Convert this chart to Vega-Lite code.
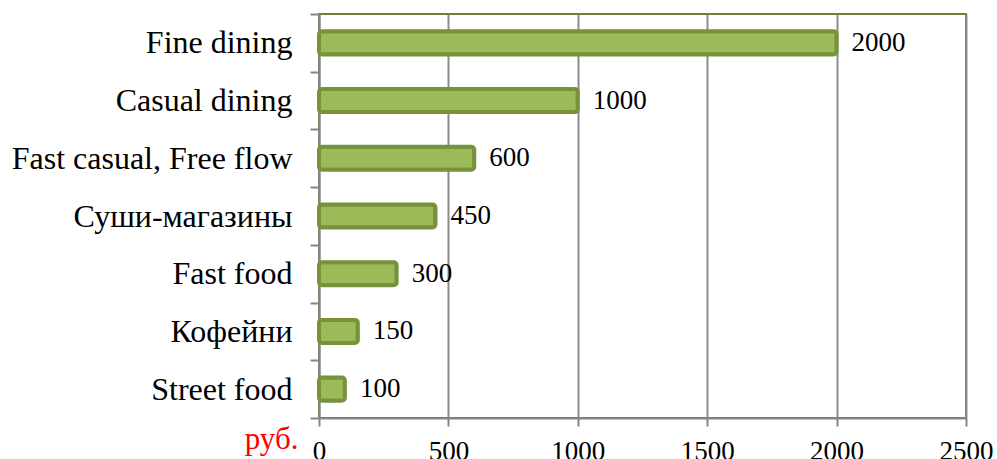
{
  "$schema": "https://vega.github.io/schema/vega-lite/v6.json",
  "autosize": "none",
  "width": 647,
  "height": 404,
  "padding": {"left": 319, "top": 14, "right": 31, "bottom": 41},
  "background": "white",
  "config": {
    "view": {"stroke": "#6B8236", "strokeWidth": 2},
    "font": "Liberation Serif"
  },
  "data": {
    "values": [
      {"segment": "Fine dining", "price": 2000},
      {"segment": "Casual dining", "price": 1000},
      {"segment": "Fast casual, Free flow", "price": 600},
      {"segment": "Суши-магазины", "price": 450},
      {"segment": "Fast food", "price": 300},
      {"segment": "Кофейни", "price": 150},
      {"segment": "Street food", "price": 100}
    ]
  },
  "encoding": {
    "y": {
      "field": "segment",
      "type": "nominal",
      "sort": null,
      "scale": {"paddingInner": 0, "paddingOuter": 0},
      "axis": {
        "title": null,
        "grid": false,
        "domainColor": "#868686",
        "domainWidth": 2,
        "tickBand": "extent",
        "tickColor": "#868686",
        "tickWidth": 2,
        "tickSize": 9,
        "labelFont": "Liberation Serif",
        "labelFontSize": 32,
        "labelColor": "#000000",
        "labelPadding": 18,
        "labelLimit": 400
      }
    },
    "x": {
      "field": "price",
      "type": "quantitative",
      "scale": {"domain": [0, 2500], "nice": false},
      "axis": {
        "values": [0, 500, 1000, 1500, 2000, 2500],
        "format": "d",
        "title": "руб.",
        "titleColor": "#FF0000",
        "titleFont": "Liberation Serif",
        "titleFontSize": 31,
        "titleFontWeight": "normal",
        "titleAnchor": "start",
        "titleAlign": "right",
        "titleBaseline": "alphabetic",
        "titleX": -21,
        "titleY": 30,
        "grid": true,
        "gridColor": "#8C8C8C",
        "gridWidth": 2,
        "domainColor": "#868686",
        "domainWidth": 2,
        "tickColor": "#868686",
        "tickWidth": 2,
        "tickSize": 8,
        "labelFont": "Liberation Serif",
        "labelFontSize": 27,
        "labelColor": "#000000",
        "labelPadding": 12,
        "labelFlush": false,
        "labelOverlap": false
      }
    }
  },
  "layer": [
    {
      "mark": {
        "type": "bar",
        "height": {"band": 0.4},
        "fill": "#9BBB59",
        "stroke": "#76923C",
        "strokeWidth": 4,
        "cornerRadius": 3
      }
    },
    {
      "mark": {
        "type": "text",
        "align": "left",
        "baseline": "middle",
        "dx": 15,
        "font": "Liberation Serif",
        "fontSize": 27,
        "color": "#000000"
      },
      "encoding": {"text": {"field": "price", "type": "quantitative"}}
    }
  ]
}
